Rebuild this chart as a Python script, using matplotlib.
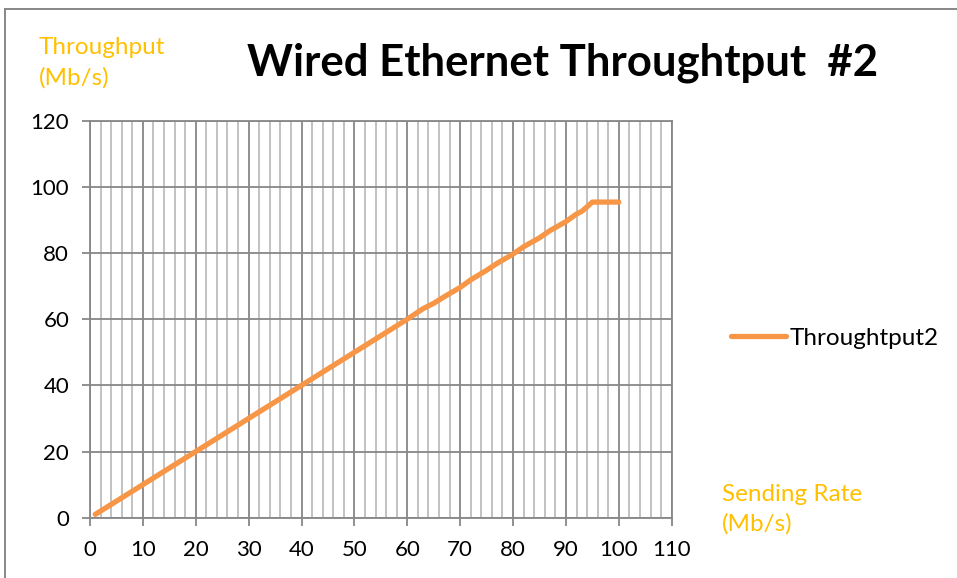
import matplotlib
matplotlib.use("Agg")
import matplotlib.pyplot as plt
from matplotlib.lines import Line2D
from matplotlib.ticker import MultipleLocator

plt.rcParams['font.family'] = ['Lato', 'DejaVu Sans']

# Sending rate (Mb/s) vs measured throughput (Mb/s)
sending_rate = [1, 5, 10, 15, 20, 25, 30, 35, 40, 45, 50, 55, 60, 63, 65, 67,
                70, 72, 75, 77, 80, 82, 85, 87, 90, 92, 93, 95, 96, 97, 98, 99, 100]
throughput2 = [1.0, 5.0, 10.0, 15.0, 20.0, 25.0, 30.0, 35.0, 40.0, 45.0, 50.0,
               55.0, 60.0, 63.2, 64.8, 66.8, 69.6, 71.9, 74.8, 76.9, 79.7, 81.9,
               84.6, 86.8, 89.5, 91.8, 92.6, 95.4, 95.4, 95.4, 95.4, 95.4, 95.4]
series_name = "Throughtput2"
title_text = "Wired Ethernet Throughtput  #2"
y_title = "Throughput\n(Mb/s)"
x_title = "Sending Rate\n(Mb/s)"

ORANGE = "#F79646"
GOLD = "#FFC000"
MAJOR = "#878787"
MINOR = "#BDBDBD"

fig = plt.figure(figsize=(9.57, 5.78), dpi=100)
ax = fig.add_axes([90 / 957, 1 - 517.7 / 578, (671.7 - 90) / 957, (517.7 - 120.7) / 578])

ax.set_xlim(0, 110)
ax.set_ylim(0, 120)
ax.xaxis.set_major_locator(MultipleLocator(10))
ax.xaxis.set_minor_locator(MultipleLocator(2))
ax.yaxis.set_major_locator(MultipleLocator(20))

ax.grid(True, which='major', axis='both', color=MAJOR, lw=1.3)
ax.grid(True, which='minor', axis='x', color=MINOR, lw=1.3)
ax.set_axisbelow(True)

for side in ['left', 'bottom', 'right', 'top']:
    ax.spines[side].set_color(MAJOR)
    ax.spines[side].set_linewidth(1.3)

ax.tick_params(axis='both', which='major', length=6, width=1.3, color=MAJOR,
               labelsize=16, labelcolor='black')
ax.tick_params(axis='x', which='major', pad=10)
ax.tick_params(axis='y', which='major', pad=9)
ax.tick_params(axis='x', which='minor', length=0)

line, = ax.plot(sending_rate, throughput2, color=ORANGE, lw=3.8,
                solid_capstyle='round', solid_joinstyle='round', label=series_name)

fig.text(247 / 957, 1 - 63 / 578, title_text, fontsize=31.5, fontweight='bold',
         ha='left', va='center', color='black')
fig.text(39 / 957, 1 - 63 / 578, y_title, fontsize=17.5, color=GOLD,
         ha='left', va='center', linespacing=1.55)
fig.text(722 / 957, 1 - 509 / 578, x_title, fontsize=17.5, color=GOLD,
         ha='left', va='center', linespacing=1.45)

fig.legend(handles=[line], loc='center left', bbox_to_anchor=(731 / 957, 1 - 338 / 578),
           frameon=False, fontsize=17.5, handlelength=2.25, handletextpad=0.15,
           borderaxespad=0, borderpad=0)

# chart frame (left and top edges)
fig.add_artist(Line2D([4.5 / 957, 4.5 / 957], [0, 1 - 8.5 / 578], color=MAJOR, lw=1.4,
                      transform=fig.transFigure))
fig.add_artist(Line2D([4.5 / 957, 1], [1 - 8.5 / 578, 1 - 8.5 / 578], color=MAJOR, lw=1.4,
                      transform=fig.transFigure))

fig.savefig("out.png", dpi=100)
